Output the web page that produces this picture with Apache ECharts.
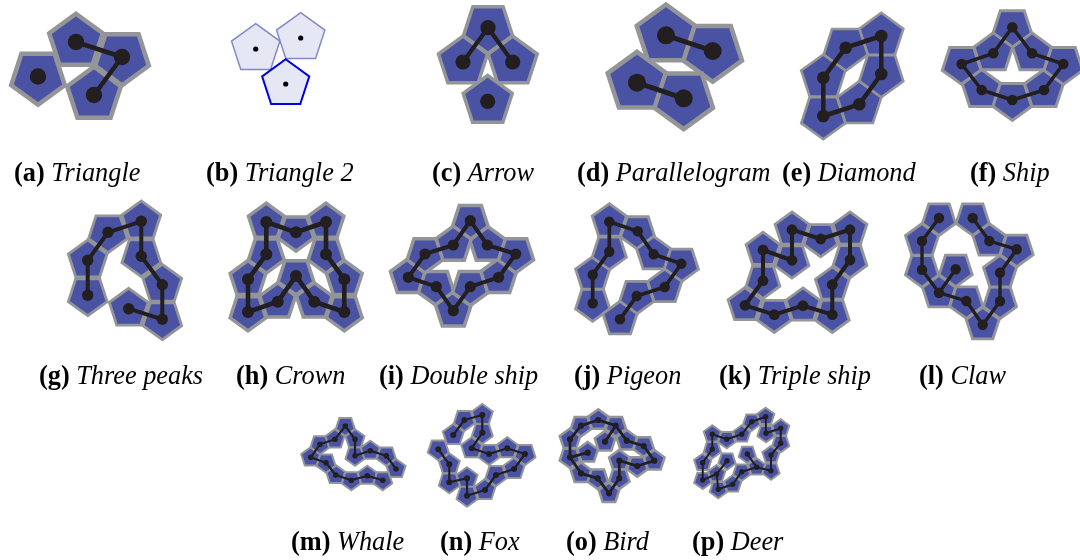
<!DOCTYPE html>
<html><head><meta charset="utf-8">
<style>html,body{margin:0;padding:0;background:#fff;overflow:hidden}#c{width:1080px;height:560px}</style>
<script src="https://cdn.jsdelivr.net/npm/echarts@6/dist/echarts.min.js"></script>
</head><body><div id="c"></div>
<script>
// Node values: [x, y, orientation]; U = apex up, D = apex down. Chains index into the node list.
const triangleNodes=[[38,76.5,'D'],[76,42,'U'],[122,57,'D'],[94,95,'U']];
const triangleChains=[[1,2,3]];
const triangle2Nodes=[[255.7,49,'U'],[300.7,38,'U'],[285.7,84,'U']];
const triangle2Chains=[];
const arrowNodes=[[488,27.7,'D'],[463,62,'U'],[512.7,62,'U'],[487.7,101.3,'U']];
const arrowChains=[[1,0,2]];
const parallelogramNodes=[[666,35.3,'U'],[712.7,51,'D'],[637,82.7,'U'],[683.7,98.3,'D']];
const parallelogramChains=[[0,1],[2,3]];
const diamondNodes=[[823.3,116,'D'],[859.3,104.3,'U'],[881.3,74,'D'],[881.3,36,'U'],[845.7,47.7,'D'],[823.3,77.7,'U']];
const diamondChains=[[0,1,2,3,4,5,0]];
const shipNodes=[[1012.3,27.3,'D'],[993.3,53.3,'U'],[961.7,64,'D'],[981.7,90,'U'],[1012.3,100,'D'],[1044,90,'U'],[1063.3,64,'D'],[1032,53.3,'U']];
const shipChains=[[0,1,2,3,4,5,6,7,0]];
const threePeaksNodes=[[87.7,295.3,'D'],[87.7,260.3,'U'],[108,232.3,'D'],[141.3,221.3,'U'],[141.3,256.3,'D'],[162.3,284.7,'U'],[162.3,319.3,'D'],[128.7,308.7,'U']];
const threePeaksChains=[[0,1,2,3,4,5,6,7]];
const crownNodes=[[248,312,'D'],[277.7,301.7,'U'],[296,276,'D'],[314.3,301.7,'U'],[344.3,312,'D'],[344.3,279.3,'U'],[326,254.3,'D'],[326,222,'U'],[296,232.3,'D'],[266.3,222,'U'],[266.3,254.3,'D'],[248,279.3,'U']];
const crownChains=[[0,1,2,3,4,5,6,7,8,9,10,11,0]];
const doubleShipNodes=[[408.3,277.3,'U'],[436.3,286.7,'D'],[453.3,310.7,'U'],[470.3,286.7,'D'],[498.7,277.3,'U'],[515.7,254,'D'],[487.3,245,'U'],[470.3,220.7,'D'],[453.3,245,'U'],[425,254,'D']];
const doubleShipChains=[[0,1,2,3,4,5,6,7,8,9,0]];
const pigeonNodes=[[592.7,303.3,'D'],[592.7,274.7,'U'],[609.3,251.7,'D'],[609.3,221.7,'U'],[637.7,231.3,'D'],[653.7,254.3,'U'],[681.3,263.7,'D'],[664.7,287,'U'],[636.7,296,'D'],[620,319.3,'U']];
const pigeonChains=[[0,1,2,3,4,5,6,7,8,9]];
const tripleShipNodes=[[792,229.7,'U'],[792,260.3,'D'],[763,250,'U'],[763,280.7,'D'],[745,305.3,'U'],[774.3,314.7,'D'],[803,305.7,'U'],[832.3,314.7,'D'],[832.3,284.7,'U'],[850,260,'D'],[850,229.7,'U'],[820.7,239,'D']];
const tripleShipChains=[[0,1,2,3,4,5,6,7,8,9,10,11,0]];
const clawNodes=[[939,218,'D'],[922,241,'U'],[922,269.7,'D'],[939,292.7,'U'],[955.7,269.3,'D'],[966.3,301,'D'],[982.7,324.7,'U'],[1000,301.3,'D'],[1000,272.7,'U'],[1016.7,249.3,'D'],[989.3,241,'U'],[972.7,218,'D']];
const clawChains=[[0,1,2,3,5,6,7,8,9,10,11],[3,4]];
const whaleNodes=[[382.7,480.3,'D'],[367.3,475.7,'U'],[351.3,480.3,'D'],[335.7,475,'U'],[326,462.7,'D'],[310.7,457.3,'U'],[320,444.3,'D'],[335,439.3,'U'],[345.3,426,'D'],[355,439.3,'U'],[355,455.7,'D'],[370.3,450.7,'U'],[386.3,455.7,'D'],[396,469,'U']];
const whaleChains=[[0,1,2,3,4,5,6,7,8,9,10,11,12,13]];
const foxNodes=[[438.3,449.3,'D'],[449.3,464.3,'U'],[449.3,482.3,'D'],[467,478.3,'U'],[467,495.7,'D'],[485,490,'U'],[496,475,'D'],[514,469,'U'],[525,454,'D'],[507.3,448.3,'U'],[489,454,'D'],[471.7,448.3,'U'],[482.3,432.7,'D'],[482.3,415,'U'],[464.3,420,'D'],[453.3,435,'U']];
const foxChains=[[0,1,2,3,4,5,6,7,8,9,10,11,12,13,14,15]];
const birdNodes=[[587.7,452.7,'U'],[570,457.3,'D'],[570,439.3,'U'],[581,425.7,'D'],[598.3,420,'U'],[615.7,425.7,'D'],[605,441.7,'U'],[626.7,440.7,'U'],[643.7,446,'D'],[654.3,460.7,'U'],[637.3,466,'D'],[619.3,460.7,'U'],[619.3,478.3,'D'],[609,493.3,'U'],[597.7,478.3,'D'],[581,473.3,'U']];
const birdChains=[[0,1,2,3,4,5,7,8,9,10,11,12,13,14,15,1],[5,6]];
const deerNodes=[[765.7,416.7,'U'],[751.7,421.7,'D'],[741.7,434.3,'U'],[726.7,439.3,'D'],[712.3,434.3,'U'],[712.3,449.3,'D'],[702.7,462.7,'U'],[702.7,480,'D'],[716.7,474,'U'],[727,460.7,'D'],[718.3,489.3,'D'],[732.7,484.3,'U'],[741.7,471.7,'D'],[756.7,467.3,'U'],[747.3,454,'D'],[771,470.7,'D'],[771,455,'U'],[780.7,443.3,'D'],[780.7,428.3,'U'],[766,433.3,'D']];
const deerChains=[[0,1,2,3,4,5,6,7,8,9],[8,10,11,12,13,14],[13,15,16,17,18,19,0]];

const panelLetters=['(a)','(b)','(c)','(d)','(e)','(f)','(g)','(h)','(i)','(j)','(k)','(l)','(m)','(n)','(o)','(p)'];
const panelNames=['Triangle','Triangle 2','Arrow','Parallelogram','Diamond','Ship','Three peaks','Crown','Double ship','Pigeon','Triple ship','Claw','Whale','Fox','Bird','Deer'];
const panelNodes=[triangleNodes,triangle2Nodes,arrowNodes,parallelogramNodes,diamondNodes,shipNodes,threePeaksNodes,crownNodes,doubleShipNodes,pigeonNodes,tripleShipNodes,clawNodes,whaleNodes,foxNodes,birdNodes,deerNodes];
const panelChains=[triangleChains,triangle2Chains,arrowChains,parallelogramChains,diamondChains,shipChains,threePeaksChains,crownChains,doubleShipChains,pigeonChains,tripleShipChains,clawChains,whaleChains,foxChains,birdChains,deerChains];

// Layout and style, kept apart from the values: [pentagon radius, border, dot radius, link width]
const panelStyle=[[28.2,4.5,8.2,4.6],[25.4,1.5,2.6,0],[25.8,3.5,7.6,4.2],[30.8,4.5,9,5],[23.2,2.6,6.3,4.5],[20.4,3,5.3,3.5],[20.4,2.8,5.7,4],[18.8,3.5,6,4.6],[18.8,3.5,5.6,4],[18,2.8,5.2,3.7],[17.8,2.8,5.4,4],[17.4,2.8,5.2,3.3],[10,2,2.8,2.2],[11,2,3,2.2],[10.8,2.5,3.1,2.8],[9,2,2.7,2]];
const captionPos=[[14,176.3],[206,176.3],[432,176.3],[577,176.3],[782,176.3],[970,176.3],[39,379.3],[236,379.3],[379,379.3],[574,379.3],[719,379.3],[919,379.3],[291,545.3],[440,545.3],[566,545.3],[692,545.3]];
const FILL='#4a53a3',EDGE='#939598',DOT='#231f20';
const PALE_FILL='#e6e7f4',PALE_EDGE='#8188c6',ACTIVE_EDGE='#0000e6';

function pentagon(cx,cy,r,up){
  const pts=[];
  for(let k=0;k<5;k++){
    const a=(up?-90:90)+72*k;
    pts.push([cx+r*Math.cos(a*Math.PI/180),cy+r*Math.sin(a*Math.PI/180)]);
  }
  return pts;
}
const series=[];
panelNodes.forEach((nodes,p)=>{
  const [r,bw,dot,lw]=panelStyle[p];
  const pale=p===1;
  series.push({type:'custom',coordinateSystem:'cartesian2d',silent:true,clip:false,z:1,
    data:nodes.map(n=>[n[0],n[1],n[2]==='U'?1:0]),
    encode:{x:0,y:1},
    renderItem:(params,api)=>{
      const c=api.coord([api.value(0),api.value(1)]);
      const active=pale&&params.dataIndex===2;
      return {type:'polygon',shape:{points:pentagon(c[0],c[1],active?24.8:r,api.value(2)===1)},
        style:{fill:pale?PALE_FILL:FILL,stroke:pale?(active?ACTIVE_EDGE:PALE_EDGE):EDGE,
          lineWidth:active?2:bw,lineJoin:'miter',miterLimit:10}};
    }});
  panelChains[p].forEach(chain=>{
    series.push({type:'line',silent:true,z:2,showSymbol:false,symbol:'none',clip:false,
      data:chain.map(i=>[nodes[i][0],nodes[i][1]]),
      lineStyle:{color:DOT,width:lw,join:'round'}});
  });
  series.push({type:'scatter',silent:true,z:3,clip:false,symbol:'circle',symbolSize:dot*2,
    data:nodes.map(n=>[n[0],n[1]]),itemStyle:{color:pale?'#000':DOT,opacity:1}});
});
const graphic=panelNames.map((name,i)=>({type:'text',left:captionPos[i][0],top:captionPos[i][1]-15,silent:true,
  style:{text:'{b|'+panelLetters[i]+' }{i|'+name+'}',fill:'#000',
    rich:{b:{fontFamily:'Liberation Serif',fontWeight:'bold',fontSize:26.3,lineHeight:30,fill:'#000'},
          i:{fontFamily:'Liberation Serif',fontStyle:'italic',fontSize:26.3,lineHeight:30,fill:'#000'}}}}));
const chart=echarts.init(document.getElementById('c'),null,{renderer:'canvas'});
chart.setOption({animation:false,backgroundColor:'#fff',
  grid:{left:0,right:0,top:0,bottom:0},
  xAxis:{type:'value',min:0,max:1080,show:false},
  yAxis:{type:'value',min:0,max:560,inverse:true,show:false},
  tooltip:{show:false},legend:{show:false},
  series,graphic});
</script></body></html>
